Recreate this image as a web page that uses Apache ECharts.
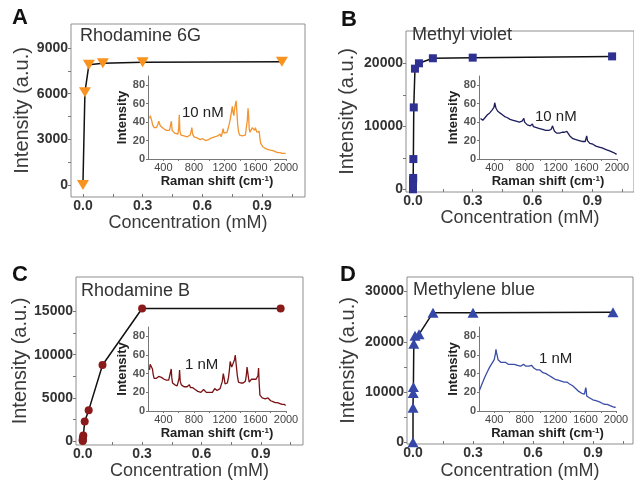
<!DOCTYPE html>
<html>
<head>
<meta charset="utf-8">
<title>SERS intensity vs concentration</title>
<script src="https://cdn.jsdelivr.net/npm/echarts@6/dist/echarts.min.js"></script>
<style>
  html, body { margin: 0; padding: 0; background: #fff; }
  #chart { width: 634px; height: 484px; }
</style>
</head>
<body>
<div id="chart"></div>
<script>
// concentration (mM) vs peak intensity (a.u.)
const r6gConc = [0.00001, 0.01, 0.03, 0.1, 0.3, 1.0];
const r6gInt = [0, 6100, 7900, 8000, 8070, 8100];

const mvConc = [0.00001, 0.00005, 0.0001, 0.0005, 0.001, 0.002, 0.004, 0.01, 0.03, 0.1, 0.3, 1.0];
const mvInt = [0, 400, 900, 1400, 1800, 4800, 13000, 19150, 20000, 20800, 20900, 21100];

const rbConc = [0.000001, 0.00001, 0.0001, 0.001, 0.003, 0.01, 0.03, 0.1, 0.3, 1.0];
const rbInt = [0, 80, 200, 400, 650, 2250, 3550, 8800, 15350, 15350];

const mbConc = [0.00001, 0.0001, 0.001, 0.002, 0.004, 0.01, 0.03, 0.1, 0.3, 1.0];
const mbInt = [0, 6900, 9800, 11000, 19600, 21200, 21500, 25800, 25800, 25900];

// tick labels
const concTicks = [0, 0.3, 0.6, 0.9];
const concMinor = [0, 0.15, 0.3, 0.45, 0.6, 0.75, 0.9, 1.05];
const r6gYTicks = [0, 3000, 6000, 9000];
const r6gYMinor = [0, 1500, 3000, 4500, 6000, 7500, 9000];
const mvYTicks = [0, 10000, 20000];
const mvYMinor = [0, 5000, 10000, 15000, 20000];
const rbYTicks = [0, 5000, 10000, 15000];
const rbYMinor = [0, 2500, 5000, 7500, 10000, 12500, 15000];
const mbYTicks = [0, 10000, 20000, 30000];
const mbYMinor = [0, 5000, 10000, 15000, 20000, 25000, 30000];
const ramanTicks = [400, 800, 1200, 1600, 2000];
const ramanMinor = [400, 600, 800, 1000, 1200, 1400, 1600, 1800, 2000];
const insetYTicks = [0, 20, 40, 60, 80];

// inset spectra: [Raman shift (cm-1), intensity]
const r6gSpec = [[220,44],[230,47],[240,45],[250,41],[260,37],[270,35],[280,34],[290,33],[300,35],[310,34],[320,33],[330,38],[340,41],[350,39],[360,36],[370,37],[380,35],[400,33],[420,34],[440,31],[460,30],[480,31],[495,32],[505,41],[515,31],[530,29],[550,28],[570,29],[590,27],[600,33],[608,48],[616,30],[630,26],[650,26],[670,25],[690,26],[710,24],[730,25],[750,26],[762,30],[772,34],[782,27],[800,24],[820,22],[840,23],[860,21],[880,21],[900,20],[915,22],[930,21],[950,20],[970,21],[990,21],[1010,22],[1030,23],[1050,22],[1070,24],[1090,23],[1110,25],[1125,24],[1140,27],[1155,24],[1170,29],[1180,33],[1190,28],[1200,26],[1215,27],[1230,29],[1245,33],[1260,38],[1275,44],[1290,52],[1300,57],[1310,50],[1320,47],[1330,55],[1342,60],[1350,63],[1360,50],[1370,37],[1380,30],[1395,26],[1410,24],[1430,25],[1450,24],[1470,26],[1485,27],[1495,42],[1505,55],[1512,48],[1520,33],[1530,29],[1545,30],[1560,34],[1570,36],[1580,33],[1590,31],[1600,34],[1610,32],[1620,29],[1630,28],[1640,31],[1650,30],[1660,22],[1670,17],[1685,15],[1700,13],[1720,12],[1740,11],[1760,11],[1780,10],[1800,9],[1830,9],[1860,8],[1890,7],[1920,7],[1950,6],[1980,6],[1995,6]];

const mvSpec = [[220,44],[235,42],[250,42],[265,43],[280,45],[295,46],[310,48],[325,49],[340,50],[355,51],[370,53],[385,54],[395,56],[405,61],[413,59],[422,55],[432,53],[442,52],[452,51],[462,52],[472,50],[482,51],[492,50],[505,48],[520,47],[535,46],[550,46],[565,45],[585,44],[605,43],[625,42],[645,42],[665,41],[685,41],[705,40],[725,40],[745,40],[762,41],[775,43],[785,44],[795,40],[810,38],[830,37],[850,37],[870,36],[885,37],[897,38],[910,35],[930,35],[950,34],[970,34],[990,33],[1010,33],[1030,32],[1050,32],[1070,31],[1090,31],[1110,31],[1125,32],[1140,32],[1160,36],[1170,33],[1185,30],[1200,29],[1215,28],[1230,27],[1250,28],[1270,29],[1285,29],[1300,28],[1315,29],[1330,30],[1345,30],[1360,31],[1370,29],[1385,25],[1405,23],[1425,22],[1445,22],[1465,21],[1485,21],[1505,20],[1525,20],[1545,19],[1565,19],[1585,19],[1595,21],[1605,25],[1615,20],[1628,18],[1645,17],[1665,16],[1685,16],[1705,15],[1725,14],[1745,14],[1765,13],[1785,13],[1805,12],[1835,11],[1865,10],[1895,9],[1925,8],[1955,7],[1980,6],[1995,5]];

const rbSpec = [[220,44],[228,50],[238,51],[248,50],[258,45],[268,39],[280,35],[295,34],[310,35],[325,34],[340,37],[350,38],[360,35],[375,36],[390,35],[400,37],[410,34],[425,34],[440,33],[455,34],[470,33],[485,32],[495,35],[503,45],[510,36],[520,30],[535,29],[550,28],[565,28],[580,27],[595,28],[605,35],[612,44],[620,32],[635,28],[650,27],[670,26],[690,25],[710,26],[725,27],[740,28],[755,25],[770,24],[785,25],[800,24],[815,23],[830,22],[850,21],[870,21],[890,20],[910,22],[925,23],[940,21],[960,20],[980,21],[1000,20],[1020,21],[1040,20],[1055,22],[1070,24],[1085,23],[1100,22],[1120,23],[1140,24],[1155,26],[1170,32],[1182,40],[1192,36],[1205,29],[1220,28],[1235,30],[1250,36],[1262,44],[1272,53],[1282,50],[1292,47],[1302,45],[1315,49],[1328,55],[1338,60],[1346,58],[1355,46],[1365,38],[1380,31],[1395,30],[1410,30],[1425,29],[1440,30],[1455,31],[1470,32],[1482,38],[1492,47],[1500,46],[1510,36],[1520,31],[1535,32],[1550,34],[1565,35],[1580,34],[1595,35],[1610,34],[1625,33],[1635,38],[1642,46],[1650,30],[1660,17],[1675,15],[1690,14],[1710,14],[1730,13],[1750,12],[1765,14],[1780,12],[1800,11],[1830,10],[1860,9],[1890,9],[1920,8],[1950,7],[1980,7],[1995,6]];

const mbSpec = [[205,22],[220,25],[235,28],[250,31],[265,34],[280,37],[295,39],[310,42],[325,44],[340,47],[355,49],[370,51],[385,53],[400,55],[410,57],[417,62],[423,66],[429,63],[435,64],[443,58],[450,55],[460,54],[475,53],[490,52],[505,53],[520,52],[535,51],[550,52],[565,51],[585,50],[605,51],[625,50],[645,49],[665,50],[685,49],[705,49],[725,48],[745,48],[765,49],[785,50],[800,49],[815,48],[835,47],[855,48],[875,47],[890,49],[905,48],[920,46],[940,45],[960,44],[980,43],[1000,44],[1020,42],[1040,41],[1060,41],[1080,40],[1100,38],[1120,38],[1140,37],[1160,36],[1180,35],[1200,34],[1220,34],[1240,33],[1260,32],[1280,32],[1300,31],[1320,31],[1340,30],[1355,31],[1367,33],[1377,31],[1390,29],[1410,28],[1430,27],[1450,25],[1470,24],[1490,22],[1510,21],[1530,20],[1550,19],[1570,18],[1585,18],[1595,19],[1603,25],[1609,22],[1615,16],[1635,15],[1655,14],[1675,13],[1695,12],[1715,12],[1735,11],[1755,11],[1775,10],[1795,9],[1825,8],[1855,7],[1885,7],[1915,6],[1945,5],[1975,4],[1995,4]];

const FONT = "'Liberation Sans', Arial, sans-serif";

// layout of the 2x2 figure (pixel positions)
const panels = [
  { letter: 'A', title: 'Rhodamine 6G', dose: '10 nM', conc: r6gConc, inten: r6gInt, spec: r6gSpec,
    yTicks: r6gYTicks, yMinor: r6gYMinor,
    color: '#f7931e', specColor: '#f39430', symbol: 'triangle', rotate: 180, size: [12, 10],
    grid: { left: 71, top: 24, width: 234, height: 173 }, xRange: [-0.06, 1.116], yRange: [-790, 10580],
    yGap: 39, xGap: 14,
    inset: { left: 148, top: 76, width: 138, height: 83 },
    letterAt: [12, 18], titleAt: [80, 36], doseAt: [182, 113] },
  { letter: 'B', title: 'Methyl violet', dose: '10 nM', conc: mvConc, inten: mvInt, spec: mvSpec,
    yTicks: mvYTicks, yMinor: mvYMinor,
    color: '#2e3192', specColor: '#1c1c5c', symbol: 'rect', rotate: 0, size: 8,
    grid: { left: 406, top: 31, width: 228, height: 161 }, xRange: [-0.035, 1.11], yRange: [-430, 25130],
    yGap: 49, xGap: 14,
    inset: { left: 479, top: 76, width: 138, height: 83 },
    letterAt: [341, 20], titleAt: [412, 35], doseAt: [535, 117] },
  { letter: 'C', title: 'Rhodamine B', dose: '1 nM', conc: rbConc, inten: rbInt, spec: rbSpec,
    yTicks: rbYTicks, yMinor: rbYMinor,
    color: '#8b1a1a', specColor: '#7a1214', symbol: 'circle', rotate: 0, size: 8,
    grid: { left: 76, top: 277, width: 227, height: 168 }, xRange: [-0.034, 1.113], yRange: [-464, 19000],
    yGap: 45, xGap: 13,
    inset: { left: 148, top: 327, width: 138, height: 84 },
    letterAt: [12, 275], titleAt: [81, 291], doseAt: [185, 365] },
  { letter: 'D', title: 'Methylene blue', dose: '1 nM', conc: mbConc, inten: mbInt, spec: mbSpec,
    yTicks: mbYTicks, yMinor: mbYMinor,
    color: '#3548a8', specColor: '#3a4ea4', symbol: 'triangle', rotate: 0, size: [11, 10],
    grid: { left: 407, top: 277, width: 226, height: 167 }, xRange: [-0.03, 1.1], yRange: [-330, 32900],
    yGap: 49, xGap: 18,
    inset: { left: 479, top: 327, width: 137, height: 84 },
    letterAt: [340, 275], titleAt: [413, 290], doseAt: [539, 359] }
];

const grid = [], xAxis = [], yAxis = [], series = [], graphic = [];
const n = panels.length;

panels.forEach((p, i) => {
  grid[i] = Object.assign({ show: true, borderColor: '#8f8f8f', borderWidth: 1, containLabel: false }, p.grid);
  grid[n + i] = Object.assign({ show: false }, p.inset);

  xAxis[i] = {
    type: 'value', gridIndex: i, min: p.xRange[0], max: p.xRange[1],
    name: 'Concentration (mM)', nameLocation: 'middle', nameGap: p.xGap,
    nameTextStyle: { fontFamily: FONT, fontSize: 18, color: '#3a3a3a' },
    splitLine: { show: false },
    axisLine: { show: false, onZero: false },
    axisTick: { inside: true, length: 3, customValues: concMinor, lineStyle: { color: '#777' } },
    axisLabel: { customValues: concTicks, margin: 2, fontFamily: FONT, fontSize: 14, fontWeight: 'bold',
      color: '#333', formatter: v => v.toFixed(1) }
  };
  yAxis[i] = {
    type: 'value', gridIndex: i, min: p.yRange[0], max: p.yRange[1],
    name: 'Intensity (a.u.)', nameLocation: 'middle', nameGap: p.yGap,
    nameTextStyle: { fontFamily: FONT, fontSize: 20, color: '#3a3a3a' },
    splitLine: { show: false },
    axisLine: { show: false, onZero: false },
    axisTick: { length: 3, customValues: p.yMinor, lineStyle: { color: '#777' } },
    axisLabel: { customValues: p.yTicks, margin: 3, fontFamily: FONT, fontSize: 14, fontWeight: 'bold',
      color: '#333', formatter: v => String(v) }
  };

  // inset axes
  xAxis[n + i] = {
    type: 'value', gridIndex: n + i, min: 200, max: 2000,
    name: 'Raman shift (cm{sup|-1})', nameLocation: 'middle', nameGap: 16,
    nameTextStyle: { fontFamily: FONT, fontSize: 13, fontWeight: 'bold', color: '#222',
      rich: { sup: { fontFamily: FONT, fontSize: 8, fontWeight: 'bold', color: '#222', verticalAlign: 'top' } } },
    splitLine: { show: false },
    axisLine: { onZero: false, lineStyle: { color: '#777', width: 1 } },
    axisTick: { length: 2, customValues: ramanMinor, lineStyle: { color: '#777' } },
    axisLabel: { customValues: ramanTicks, margin: 3, fontFamily: FONT, fontSize: 11, color: '#444',
      formatter: v => String(v) }
  };
  yAxis[n + i] = {
    type: 'value', gridIndex: n + i, min: 0, max: 90,
    name: 'Intensity', nameLocation: 'middle', nameGap: 17,
    nameTextStyle: { fontFamily: FONT, fontSize: 13, fontWeight: 'bold', color: '#222' },
    splitLine: { show: false },
    axisLine: { show: true, onZero: false, lineStyle: { color: '#777', width: 1 } },
    axisTick: { show: true, length: 2, customValues: insetYTicks, lineStyle: { color: '#777' } },
    axisLabel: { customValues: insetYTicks, margin: 3, fontFamily: FONT, fontSize: 11, color: '#555', fontWeight: 'bold' }
  };

  series.push({
    type: 'line', xAxisIndex: i, yAxisIndex: i,
    data: p.conc.map((c, k) => [c, p.inten[k]]),
    symbol: p.symbol, symbolRotate: p.rotate, symbolSize: p.size, showAllSymbol: true,
    lineStyle: { color: '#111', width: 1.5 },
    itemStyle: { color: p.color },
    z: 5, animation: false
  });
  series.push({
    type: 'line', xAxisIndex: n + i, yAxisIndex: n + i,
    data: p.spec, showSymbol: false, symbol: 'none',
    lineStyle: { color: p.specColor, width: 1.3 },
    z: 3, animation: false
  });

  graphic.push(
    { type: 'text', x: p.letterAt[0], y: p.letterAt[1],
      style: { text: p.letter, font: 'bold 22px ' + FONT, fill: '#111', verticalAlign: 'middle' } },
    { type: 'text', x: p.titleAt[0], y: p.titleAt[1],
      style: { text: p.title, font: '18px ' + FONT, fill: '#333', verticalAlign: 'middle' } },
    { type: 'text', x: p.doseAt[0], y: p.doseAt[1],
      style: { text: p.dose, font: '15px ' + FONT, fill: '#222', verticalAlign: 'middle' } }
  );
});

const chart = echarts.init(document.getElementById('chart'), null, { renderer: 'canvas' });
chart.setOption({
  animation: false,
  backgroundColor: '#fff',
  grid, xAxis, yAxis, series, graphic
});
</script>
</body>
</html>
